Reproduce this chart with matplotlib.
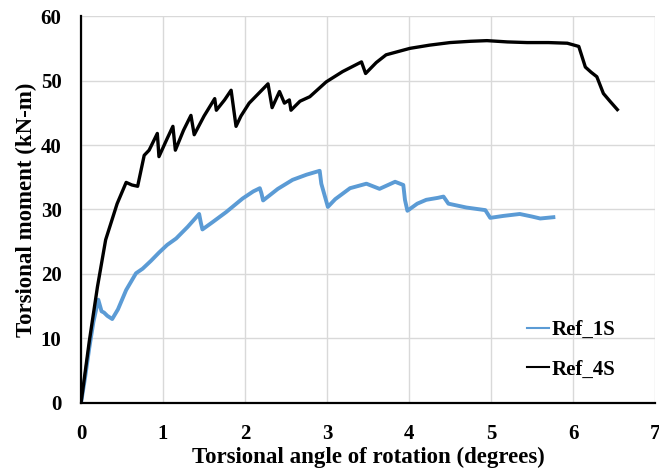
import matplotlib

matplotlib.use("Agg")
import matplotlib.pyplot as plt
from matplotlib.lines import Line2D

# Ref_1S (blue) - angle in degrees, moment in kN-m
ref1s_angle = [0.0, 0.05, 0.10, 0.15, 0.21, 0.25, 0.28, 0.32, 0.38, 0.45, 0.55, 0.67, 0.75,
               0.85, 0.95, 1.05, 1.16, 1.30, 1.44, 1.46, 1.48, 1.60, 1.77, 1.97, 2.10,
               2.18, 2.20, 2.22, 2.40, 2.58, 2.75, 2.91, 2.93, 3.01, 3.10, 3.28, 3.48,
               3.64, 3.83, 3.93, 3.95, 3.98, 4.10, 4.21, 4.35, 4.42, 4.48, 4.70, 4.93,
               4.99, 5.15, 5.35, 5.50, 5.60, 5.76]
ref1s_moment = [0.0, 4.0, 8.5, 12.5, 16.0, 14.2, 14.0, 13.5, 13.0, 14.5, 17.5, 20.1, 20.8,
                22.0, 23.3, 24.5, 25.5, 27.3, 29.3, 28.0, 26.9, 28.0, 29.6, 31.7, 32.8,
                33.3, 32.5, 31.4, 33.2, 34.6, 35.4, 36.0, 34.0, 30.4, 31.6, 33.3, 34.0,
                33.2, 34.3, 33.8, 31.5, 29.8, 30.9, 31.5, 31.8, 32.0, 30.9, 30.3, 29.9,
                28.7, 29.0, 29.3, 28.9, 28.6, 28.8]

# Ref_4S (black)
ref4s_angle = [0.0, 0.10, 0.20, 0.30, 0.44, 0.55, 0.62, 0.69, 0.77, 0.83, 0.93, 0.95, 1.05,
               1.12, 1.15, 1.25, 1.34, 1.38, 1.50, 1.63, 1.65, 1.75, 1.83, 1.89, 1.95,
               2.05, 2.28, 2.33, 2.42, 2.48, 2.54, 2.56, 2.67, 2.79, 2.99, 3.19, 3.42,
               3.47, 3.60, 3.72, 4.01, 4.25, 4.50, 4.75, 4.95, 5.20, 5.44, 5.70, 5.93,
               6.07, 6.15, 6.22, 6.29, 6.37, 6.45, 6.54]
ref4s_moment = [0.0, 9.5, 18.0, 25.3, 30.9, 34.2, 33.8, 33.6, 38.4, 39.2, 41.8, 38.2, 41.0,
                42.9, 39.2, 42.3, 44.6, 41.6, 44.5, 47.2, 45.4, 47.0, 48.5, 42.9, 44.5,
                46.5, 49.5, 45.8, 48.3, 46.5, 47.0, 45.4, 46.8, 47.5, 49.8, 51.4, 52.9,
                51.1, 52.8, 54.0, 55.0, 55.5, 55.9, 56.1, 56.2, 56.0, 55.9, 55.9, 55.8,
                55.3, 52.1, 51.3, 50.6, 48.0, 46.8, 45.5]

x_ticks = [0, 1, 2, 3, 4, 5, 6, 7]
y_ticks = [0, 10, 20, 30, 40, 50, 60]

BLUE = "#5B9BD5"

plt.rcParams.update(
    {
        "font.family": "Liberation Serif",
        "font.weight": "bold",
        "font.size": 15,
    }
)

fig = plt.figure(figsize=(6.59, 4.75), dpi=100)
ax = fig.add_axes([0.123, 0.152, 0.871, 0.814])

ax.plot(ref1s_angle, ref1s_moment, color=BLUE, linewidth=2.8)
ax.plot(ref4s_angle, ref4s_moment, color="black", linewidth=2.4)

ax.set_xlim(0, 7)
ax.set_ylim(0, 60)
ax.set_xticks(x_ticks)
ax.set_yticks(y_ticks)
ax.grid(True, color="#d9d9d9", linewidth=1.0)
ax.set_axisbelow(True)
for side in ("top", "right"):
    ax.spines[side].set_visible(False)
for side in ("left", "bottom"):
    ax.spines[side].set_linewidth(1.6)
ax.tick_params(length=0, labelsize=15)
ax.tick_params(axis="x", pad=15)
ax.tick_params(axis="y", pad=14)
for lab in ax.get_xticklabels() + ax.get_yticklabels():
    lab.set_fontweight("bold")

ax.set_xlabel("Torsional angle of rotation (degrees)", fontsize=16.5, fontweight="bold", labelpad=2)
ax.set_ylabel("Torsional moment (kN-m)", fontsize=16.5, fontweight="bold", labelpad=3)

handles = [
    Line2D([0], [0], color=BLUE, linewidth=1.5, label="Ref_1S"),
    Line2D([0], [0], color="black", linewidth=1.5, label="Ref_4S"),
]
ax.legend(
    handles=handles,
    loc="upper left",
    bbox_to_anchor=(0.745, 0.263),
    frameon=False,
    handlelength=1.05,
    handletextpad=0.1,
    labelspacing=0.95,
    prop={"family": "Liberation Serif", "weight": "bold", "size": 15},
)

fig.savefig("out.png", dpi=100)
